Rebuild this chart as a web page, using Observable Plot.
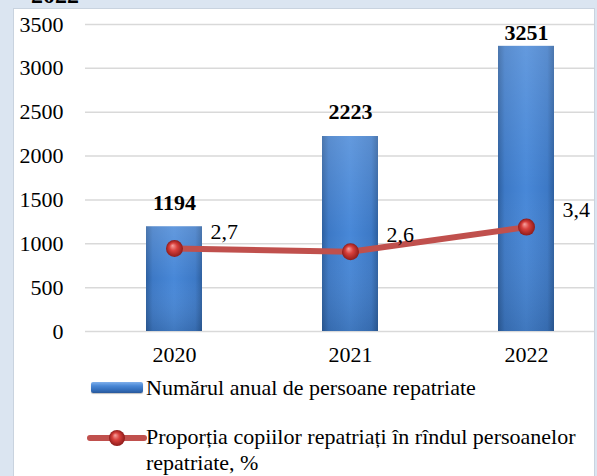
<!DOCTYPE html>
<html>
<head>
<meta charset="utf-8">
<script src="https://cdn.jsdelivr.net/npm/d3@7"></script>
<script src="https://cdn.jsdelivr.net/npm/@observablehq/plot@0.6"></script>
<style>
  html, body { margin: 0; padding: 0; }
  body {
    width: 597px; height: 476px; overflow: hidden; position: relative;
    background: #dbe5f1;
    font-family: "Liberation Serif", "DejaVu Serif", "Times New Roman", Times, serif;
    color: #000;
  }
  #title {
    position: absolute; left: 31px; top: -17px;
    font-size: 24px; font-weight: bold; line-height: 24px; white-space: nowrap;
  }
  #panel {
    position: absolute; left: 13px; top: 8px;
    width: 580px; height: 480px;
    background: #ffffff; border: 1px solid #c9d3df;
    overflow: hidden;
  }
  #stage { position: absolute; left: -14px; top: -9px; width: 640px; height: 490px; }
  #chart { position: absolute; left: 0; top: 0; }
  #chart svg text { font-family: "Liberation Serif", "DejaVu Serif", "Times New Roman", Times, serif; }
  .lg { position: absolute; font-size: 22px; line-height: 26px; white-space: nowrap; }
  #sw1 {
    position: absolute; left: 91px; top: 382px; width: 52px; height: 11px;
    border-radius: 2px;
    background: linear-gradient(to bottom, #7fb0ec 0%, #4a88d6 35%, #3570bd 70%, #28589a 100%);
    box-shadow: 0 1px 1px rgba(0,0,0,0.25);
  }
  #sw2 { position: absolute; left: 86px; top: 428px; }
</style>
</head>
<body>
<div id="title">2022</div>
<div id="panel">
  <div id="stage">
    <div id="chart"></div>
    <div id="sw1"></div>
    <div class="lg" style="left:146px; top:375px;">Numărul anual de persoane repatriate</div>
    <svg id="sw2" width="62" height="20">
      <defs>
        <radialGradient id="ballL" cx="0.5" cy="0.5" r="0.5" fx="0.38" fy="0.32">
          <stop offset="0" stop-color="#f6a3a0"/>
          <stop offset="0.45" stop-color="#d9403c"/>
          <stop offset="1" stop-color="#8e1b1a"/>
        </radialGradient>
      </defs>
      <line x1="4" y1="10" x2="58" y2="10" stroke="#c0504d" stroke-width="6" stroke-linecap="round"/>
      <circle cx="31" cy="10" r="8" fill="url(#ballL)"/>
    </svg>
    <div class="lg" style="left:146px; top:424px;">Proporția copiilor repatriați în rîndul persoanelor</div>
    <div class="lg" style="left:146px; top:450px;">repatriate, %</div>
  </div>
</div>
<script>
// ---- data ----
const years = ["2020", "2021", "2022"];
const repatriated = [1194, 2223, 3251];          // Numărul anual de persoane repatriate
const childShare = [2.7, 2.6, 3.4];              // Proporția copiilor repatriați, %
const yTicks = [0, 500, 1000, 1500, 2000, 2500, 3000, 3500];
const yMax = 3500;
const shareAxisMax = 10;                          // hidden secondary axis 0–10 %

const data = years.map((year, i) => ({ year, count: repatriated[i], share: childShare[i] }));
const shareY = d => d.share * (yMax / shareAxisMax);
const labelY = d => Math.min(d.count + 275, 3400);
const fmtShare = v => v.toFixed(1).replace(".", ",");
const serif = "Liberation Serif, DejaVu Serif, Times New Roman, Times, serif";

const chart = Plot.plot({
  width: 640,
  height: 476,
  marginLeft: 85,
  marginRight: 24.5,
  marginTop: 24,
  marginBottom: 145,
  style: { fontFamily: serif, fontSize: "22px", color: "#000", background: "transparent" },
  x: { domain: years, paddingInner: 0.684, paddingOuter: 0.342, label: null },
  y: { domain: [0, yMax], label: null },
  marks: [
    Plot.gridY(yTicks, { stroke: "#d9d9d9", strokeOpacity: 1, strokeWidth: 1.5 }),
    Plot.axisY(yTicks, { tickSize: 0, tickPadding: 22, fontSize: 22, label: null, tickFormat: d => String(d) }),
    Plot.axisX({ tickSize: 0, tickPadding: 15, fontSize: 22, label: null }),
    Plot.barY(data, { x: "year", y: "count", fill: "url(#barH)" }),
    Plot.barY(data, { x: "year", y: "count", fill: "url(#barV)" }),
    Plot.text(data, { x: "year", y: labelY, text: d => String(d.count), fontWeight: "bold", fontSize: 22 }),
    Plot.line(data, { x: "year", y: shareY, stroke: "#c0504d", strokeWidth: 6 }),
    Plot.dot(data, { x: "year", y: shareY, r: 8.5, fill: "url(#ball)", stroke: "none" }),
    Plot.text(data, { x: "year", y: shareY, text: d => fmtShare(d.share), textAnchor: "start", dx: 36, dy: -17, fontSize: 22 })
  ]
});

d3.select(chart).insert("defs", ":first-child").html(`
  <linearGradient id="barH" x1="0" y1="0" x2="1" y2="0">
    <stop offset="0" stop-color="#2d5f9f"/>
    <stop offset="0.12" stop-color="#3d79c6"/>
    <stop offset="0.5" stop-color="#4888d8"/>
    <stop offset="0.88" stop-color="#3d79c6"/>
    <stop offset="1" stop-color="#2d5f9f"/>
  </linearGradient>
  <linearGradient id="barV" x1="0" y1="0" x2="0" y2="1">
    <stop offset="0" stop-color="#ffffff" stop-opacity="0.15"/>
    <stop offset="0.5" stop-color="#ffffff" stop-opacity="0"/>
    <stop offset="1" stop-color="#000000" stop-opacity="0.12"/>
  </linearGradient>
  <radialGradient id="ball" cx="0.5" cy="0.5" r="0.5" fx="0.38" fy="0.32">
    <stop offset="0" stop-color="#f6a3a0"/>
    <stop offset="0.45" stop-color="#d9403c"/>
    <stop offset="1" stop-color="#8e1b1a"/>
  </radialGradient>
`);

document.getElementById("chart").appendChild(chart);
</script>
</body>
</html>
